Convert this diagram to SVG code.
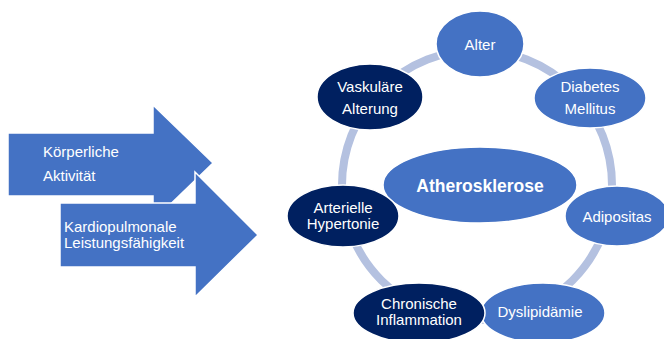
<svg xmlns="http://www.w3.org/2000/svg" width="664" height="339" viewBox="0 0 664 339">
<style>
.arrow{fill:#4472C4;stroke:#FFFFFF;stroke-width:1.5}
.blue{fill:#4472C4;stroke:#FFFFFF;stroke-width:1.5}
.navy{fill:#002060;stroke:#FFFFFF;stroke-width:1.5}
.t{font-family:"Liberation Sans",Arial,sans-serif;font-size:15px;fill:#FFFFFF}
.c{text-anchor:middle}
.b{font-weight:bold;font-size:17.5px}
</style>
<g id="arrow-koerperliche">
<polygon class="arrow" points="8,133 153,133 153,105 213,163 153,221 153,196 8,196" stroke="none"/>
<text class="t" x="43" y="157">Körperliche</text>
<text class="t" x="43" y="181">Aktivität</text>
</g>
<g id="arrow-kardio">
<polygon class="arrow" points="60,203 195,203 195,172 258,235 195,297 195,267 60,267"/>
<text class="t" x="64" y="232">Kardiopulmonale</text>
<text class="t" x="64" y="248">Leistungsfähigkeit</text>
</g>
<g id="connectors">
<circle cx="477" cy="185" r="135" fill="none" stroke="#B4C1E0" stroke-width="8"/>
</g>
<g id="atherosklerose">
<ellipse class="blue" cx="480" cy="185" rx="97" ry="38"/>
<text class="t c b" x="480" y="192">Atherosklerose</text>
</g>
<g id="alter">
<ellipse class="blue" cx="480" cy="44" rx="44" ry="33"/>
<text class="t c" x="480" y="50">Alter</text>
</g>
<g id="diabetes">
<ellipse class="blue" cx="590" cy="98" rx="56" ry="30"/>
<text class="t c" x="590" y="92">Diabetes</text>
<text class="t c" x="590" y="114">Mellitus</text>
</g>
<g id="vaskulaere">
<ellipse class="navy" cx="370" cy="97" rx="53" ry="33"/>
<text class="t c" x="370" y="92">Vaskuläre</text>
<text class="t c" x="370" y="114">Alterung</text>
</g>
<g id="adipositas">
<ellipse class="blue" cx="617" cy="216" rx="52" ry="30"/>
<text class="t c" x="617" y="222">Adipositas</text>
</g>
<g id="hypertonie">
<ellipse class="navy" cx="343" cy="216" rx="56" ry="31"/>
<text class="t c" x="343" y="213">Arterielle</text>
<text class="t c" x="343" y="229">Hypertonie</text>
</g>
<g id="dyslipidaemie">
<ellipse class="blue" cx="543" cy="313" rx="62" ry="30"/>
<text class="t c" x="540" y="317">Dyslipidämie</text>
</g>
<g id="inflammation">
<ellipse class="navy" cx="419" cy="313" rx="66" ry="30"/>
<text class="t c" x="419" y="309">Chronische</text>
<text class="t c" x="419" y="325">Inflammation</text>
</g>
</svg>
